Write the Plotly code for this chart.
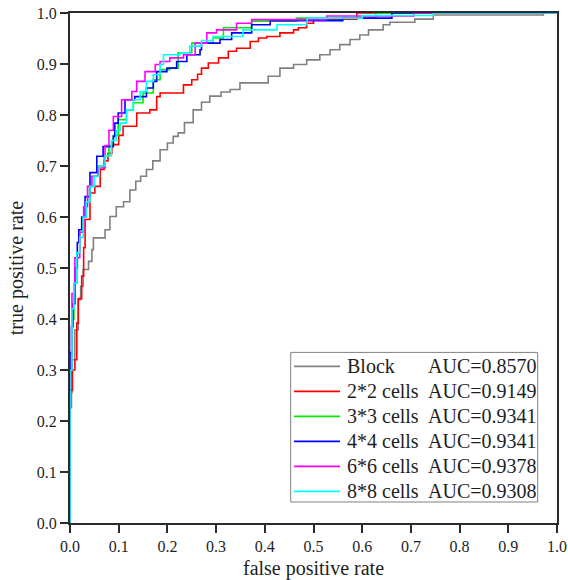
import plotly.graph_objects as go

# ---- data ----
names = ["Block", "2*2 cells", "3*3 cells", "4*4 cells", "6*6 cells", "8*8 cells"]
auc_labels = ["AUC=0.8570", "AUC=0.9149", "AUC=0.9341", "AUC=0.9341", "AUC=0.9378", "AUC=0.9308"]
colors = ["#808080", "#ff0000", "#00ee00", "#0000ff", "#ff00ff", "#00ffff"]

block_fpr = [0, 0, 0.003, 0.004, 0.01, 0.017, 0.022, 0.027, 0.038, 0.045, 0.048, 0.072, 0.082, 0.095,
             0.11, 0.123, 0.135, 0.145, 0.157, 0.17, 0.185, 0.2, 0.212, 0.222, 0.235, 0.253, 0.27, 0.287,
             0.31, 0.329, 0.349, 0.407, 0.431, 0.459, 0.486, 0.513, 0.534, 0.554, 0.575, 0.595, 0.613,
             0.643, 0.657, 0.708, 0.746, 0.972, 1.0]
block_tpr = [0, 0.226, 0.255, 0.32, 0.379, 0.438, 0.464, 0.497, 0.513, 0.536, 0.559, 0.575, 0.601, 0.62,
             0.63, 0.653, 0.67, 0.68, 0.693, 0.71, 0.732, 0.745, 0.758, 0.765, 0.785, 0.81, 0.825, 0.837,
             0.845, 0.85, 0.863, 0.876, 0.892, 0.899, 0.908, 0.918, 0.928, 0.938, 0.948, 0.957, 0.967,
             0.977, 0.982, 0.988, 0.996, 1.0, 1.0]

c2_fpr = [0, 0, 0.005, 0.01, 0.014, 0.017, 0.024, 0.028, 0.031, 0.041, 0.051, 0.062, 0.07, 0.078, 0.086,
          0.1, 0.109, 0.137, 0.164, 0.178, 0.185, 0.233, 0.25, 0.262, 0.27, 0.284, 0.305, 0.325, 0.342,
          0.37, 0.387, 0.404, 0.431, 0.459, 0.469, 0.486, 0.5, 0.589, 1.0]
c2_tpr = [0, 0.26, 0.3, 0.32, 0.392, 0.44, 0.484, 0.54, 0.595, 0.647, 0.66, 0.693, 0.71, 0.725, 0.742,
          0.76, 0.778, 0.804, 0.81, 0.836, 0.843, 0.859, 0.869, 0.88, 0.892, 0.902, 0.912, 0.925, 0.931,
          0.944, 0.951, 0.954, 0.961, 0.967, 0.971, 0.98, 0.988, 1.0, 1.0]

c3_fpr = [0, 0, 0.004, 0.008, 0.014, 0.02, 0.027, 0.033, 0.04, 0.05, 0.058, 0.07, 0.08, 0.089, 0.099,
          0.116, 0.13, 0.15, 0.171, 0.185, 0.205, 0.222, 0.25, 0.294, 0.315, 0.373, 0.465, 0.628, 1.0]
c3_tpr = [0, 0.3, 0.4, 0.47, 0.53, 0.57, 0.6, 0.63, 0.66, 0.68, 0.7, 0.72, 0.74, 0.76, 0.791,
          0.81, 0.824, 0.843, 0.869, 0.889, 0.892, 0.922, 0.941, 0.951, 0.971, 0.984, 0.99, 1.0, 1.0]

c4_fpr = [0, 0, 0.003, 0.006, 0.01, 0.015, 0.018, 0.024, 0.031, 0.041, 0.055, 0.068, 0.089, 0.092,
          0.099, 0.113, 0.133, 0.157, 0.171, 0.178, 0.199, 0.219, 0.24, 0.267, 0.27, 0.308, 0.332,
          0.373, 0.411, 0.56, 0.661, 1.0]
c4_tpr = [0, 0.334, 0.385, 0.43, 0.5, 0.55, 0.575, 0.6, 0.64, 0.687, 0.719, 0.738, 0.758, 0.784,
          0.804, 0.83, 0.836, 0.853, 0.866, 0.885, 0.892, 0.905, 0.918, 0.928, 0.941, 0.948, 0.961,
          0.977, 0.985, 0.99, 1.0, 1.0]

c6_fpr = [0, 0, 0.004, 0.01, 0.02, 0.028, 0.036, 0.045, 0.058, 0.072, 0.08, 0.089, 0.106, 0.127,
          0.137, 0.154, 0.175, 0.185, 0.205, 0.233, 0.257, 0.281, 0.301, 0.342, 0.373, 0.527, 0.706, 1.0]
c6_tpr = [0, 0.3, 0.45, 0.52, 0.57, 0.62, 0.66, 0.68, 0.696, 0.74, 0.77, 0.797, 0.83, 0.846,
          0.866, 0.885, 0.899, 0.905, 0.912, 0.918, 0.941, 0.961, 0.967, 0.98, 0.987, 0.994, 1.0, 1.0]

c8_fpr = [0, 0, 0.004, 0.008, 0.014, 0.02, 0.027, 0.033, 0.041, 0.05, 0.06, 0.072, 0.085, 0.095,
          0.103, 0.116, 0.13, 0.144, 0.157, 0.171, 0.185, 0.192, 0.226, 0.246, 0.27, 0.294, 0.355,
          0.425, 0.487, 0.6, 0.746, 1.0]
c8_tpr = [0, 0.3, 0.42, 0.47, 0.53, 0.56, 0.6, 0.63, 0.66, 0.68, 0.7, 0.72, 0.75, 0.77,
          0.784, 0.81, 0.83, 0.846, 0.866, 0.879, 0.899, 0.918, 0.922, 0.935, 0.946, 0.954, 0.967,
          0.977, 0.99, 0.995, 1.0, 1.0]

series_fpr = [block_fpr, c2_fpr, c3_fpr, c4_fpr, c6_fpr, c8_fpr]
series_tpr = [block_tpr, c2_tpr, c3_tpr, c4_tpr, c6_tpr, c8_tpr]

tick_vals = [0.0, 0.1, 0.2, 0.3, 0.4, 0.5, 0.6, 0.7, 0.8, 0.9, 1.0]

# ---- figure ----
FONT = "Liberation Serif, Times New Roman, serif"
TXT = "#1e1e1e"

fig = go.Figure()
for nm, auc, col, fx, ty in zip(names, auc_labels, colors, series_fpr, series_tpr):
    fig.add_trace(go.Scatter(
        x=fx, y=ty, mode="lines", line=dict(color=col, width=1.6, shape="hv"),
        name=f"{nm} {auc}", showlegend=False,
    ))

axis_common = dict(
    range=[0, 1], tickvals=tick_vals, ticktext=[f"{v:.1f}" for v in tick_vals],
    showgrid=False, zeroline=False, showline=True, linecolor="#2b2b2b", linewidth=2,
    mirror=True, ticks="outside", ticklen=8, tickwidth=2, tickcolor="#2b2b2b",
    tickfont=dict(family=FONT, size=16, color=TXT), layer="below traces",
    automargin=False,
)

# ---- legend box (drawn in paper coordinates) ----
LX0, LX1, LY0, LY1 = 0.4532, 0.9604, 0.0412, 0.3345
ROW0, ROWSTEP = 0.3071, 0.04902
shapes = [dict(type="rect", xref="paper", yref="paper", x0=LX0, x1=LX1, y0=LY0, y1=LY1,
               line=dict(color="#808080", width=1), fillcolor="white", layer="above")]
annotations = []
for i, (nm, auc, col) in enumerate(zip(names, auc_labels, colors)):
    yy = ROW0 - i * ROWSTEP
    shapes.append(dict(type="line", xref="paper", yref="paper", x0=0.4600, x1=0.5544, y0=yy, y1=yy,
                       line=dict(color=col, width=1.6), layer="above"))
    annotations.append(dict(xref="paper", yref="paper", x=0.5640, y=yy, xanchor="left", yanchor="middle",
                            text=nm, showarrow=False, font=dict(family=FONT, size=20, color=TXT)))
    annotations.append(dict(xref="paper", yref="paper", x=0.7320, y=yy, xanchor="left", yanchor="middle",
                            text=auc, showarrow=False, font=dict(family=FONT, size=20, color=TXT)))

fig.update_layout(
    width=568, height=580,
    margin=dict(l=70, r=11, t=13, b=57),
    paper_bgcolor="white", plot_bgcolor="white",
    font=dict(family=FONT, color=TXT),
    xaxis=dict(**axis_common, title=dict(text="false positive rate", font=dict(family=FONT, size=20), standoff=10)),
    yaxis=dict(**axis_common, title=dict(text="true positive rate", font=dict(family=FONT, size=20), standoff=8)),
    shapes=shapes, annotations=annotations,
    showlegend=False,
)

fig.write_html("out.html")
